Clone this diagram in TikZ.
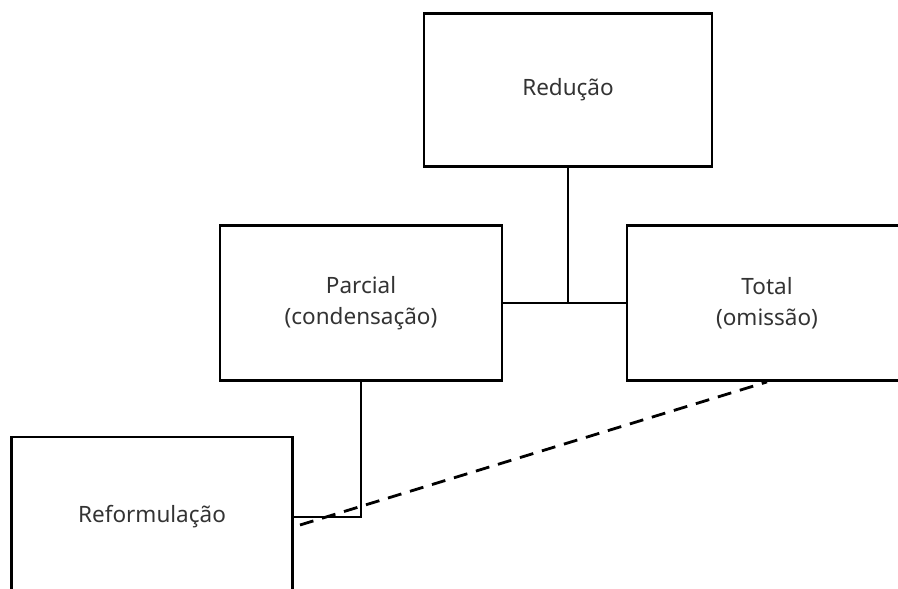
\documentclass[tikz,border=0pt]{standalone}
\usepackage{fontspec}
\setmainfont{Noto Sans}
\usetikzlibrary{positioning}

\begin{document}
\begin{tikzpicture}[x=1pt,y=-1pt,line width=2.8pt,
  box node/.style={rectangle,draw,inner sep=0pt,align=center,
    text=black!80,font=\fontsize{22.5}{31}\selectfont}]
  \useasboundingbox (0,0) rectangle (898,589);
  \clip (0,0) rectangle (898,589);

  \node[box node,minimum width=288pt,minimum height=153pt] (red) at (568,90) {Redução};
  \node[box node,minimum width=282pt,minimum height=155pt] (par) at (361,303) {Parcial\\(condensação)};
  \node[box node,minimum width=280pt,minimum height=155pt] (tot) at (767,303) {Total\\(omissão)};
  \node[box node,minimum width=281pt,minimum height=160pt] (ref) at (152,517) {Reformulação};
  \coordinate (dash end) at (300,525);

  \draw (par.east) -- (tot.west);
  \draw (red.south) -- (red.south |- par.east);
  \draw (par.south) |- (ref.east);
  \draw[dashed,dash pattern=on 14pt off 9pt] (dash end) -- (tot.south);
\end{tikzpicture}
\end{document}
